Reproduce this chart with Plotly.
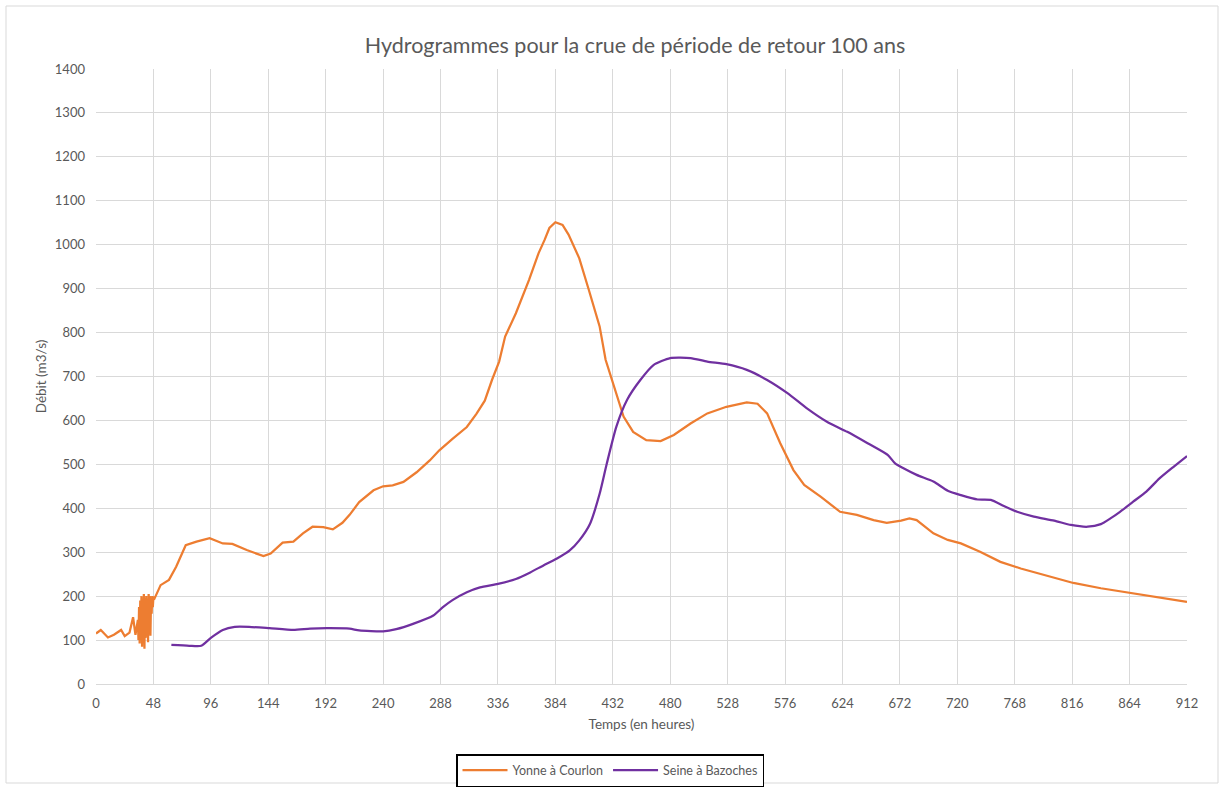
import plotly.graph_objects as go

# Yonne à Courlon (heures, m3/s)
yonne_t = [0, 4, 10, 15, 21, 24, 28, 31, 33, 35,
           35.5, 36, 36.5, 37, 37.5, 38, 38.5, 39, 39.5, 40, 40.5, 41, 41.5, 42,
           42.5, 43, 43.5, 44, 44.5, 45, 45.5, 46, 46.5, 47, 47.5, 48,
           49, 54, 61, 67, 75, 84, 95, 106, 114, 126, 140, 146, 156, 165, 173,
           181, 190, 198, 206, 212, 220, 232, 240, 248, 257, 268, 279, 287,
           298, 310, 318, 325, 331, 337, 342, 351, 362, 370, 375, 379, 384,
           390, 395, 404, 412, 421, 426, 433, 441, 449, 460, 472, 483, 497,
           511, 527, 544, 553, 561, 572, 583, 592, 606, 622, 636, 650, 661,
           673, 680, 686, 700, 712, 723, 739, 756, 773, 795, 817, 840, 862,
           884, 912]
yonne_q = [115, 123, 106, 112, 123, 109, 117, 152, 112, 146,
           100, 175, 92, 190, 110, 200, 85, 185, 120, 205, 80, 195, 105, 200,
           130, 190, 95, 205, 140, 200, 110, 195, 160, 200, 175, 198,
           195, 225, 237, 267, 316, 324, 332, 320, 319, 305, 291, 297, 322, 324, 343,
           358, 357, 352, 367, 385, 414, 441, 450, 452, 460, 482, 509, 532,
           558, 585, 615, 645, 692, 734, 791, 844, 920, 981, 1011, 1038, 1051,
           1045, 1023, 969, 897, 814, 738, 677, 609, 574, 555, 553, 567, 593,
           616, 631, 641, 638, 616, 548, 487, 453, 426, 392, 385, 373, 367,
           372, 377, 373, 343, 328, 320, 301, 278, 263, 246, 230, 218, 208,
           199, 187]

# Seine à Bazoches (heures, m3/s)
seine_t = [63, 78, 88, 96, 106, 116, 128, 145, 165, 179, 193, 212, 220,
           240, 251, 265, 282, 290, 298, 310, 321, 336, 351, 363, 374, 385,
           396, 404, 413, 421, 427, 435, 444, 455, 466, 480, 497, 511, 527,
           544, 561, 578, 594, 611, 628, 645, 662, 668, 675, 686, 700, 712,
           723, 737, 748, 759, 770, 784, 801, 815, 829, 840, 848, 856, 867,
           878, 889, 901, 912]
seine_q = [89, 87, 87, 105, 123, 130, 130, 127, 123, 126, 127, 126, 122,
           120, 125, 137, 156, 175, 191, 209, 220, 228, 239, 254, 270, 285,
           304, 327, 365, 433, 502, 586, 647, 692, 726, 742, 742, 734, 728,
           715, 692, 662, 628, 597, 574, 548, 521, 502, 491, 476, 461, 440,
           430, 420, 419, 405, 392, 381, 372, 362, 358, 364, 377, 392, 415,
           438, 468, 495, 519]

x_ticks = list(range(0, 913, 48))

GRAY_TEXT = "#595959"
GRID = "#d9d9d9"
FONT = "Lato, 'Open Sans', sans-serif"

fig = go.Figure()
fig.add_trace(go.Scatter(
    x=yonne_t, y=yonne_q, mode="lines", name="Yonne à Courlon",
    line=dict(color="#ED7D31", width=2.25),
))
fig.add_trace(go.Scatter(
    x=seine_t, y=seine_q, mode="lines", name="Seine à Bazoches",
    line=dict(color="#7030A0", width=2.25, shape="spline", smoothing=0.6),
))

fig.update_layout(
    width=1224, height=789,
    paper_bgcolor="white", plot_bgcolor="white",
    margin=dict(l=96, r=37, t=69, b=105, autoexpand=False),
    font=dict(family=FONT, color=GRAY_TEXT, size=13),
    title=dict(
        text="Hydrogrammes pour la crue de période de retour 100 ans",
        x=(635 - 96) / 1091, xref="paper", xanchor="center",
        y=1 - 45 / 789, yanchor="middle",
        font=dict(size=21.5, color=GRAY_TEXT, family=FONT),
    ),
    xaxis=dict(
        range=[0, 912], tickmode="array", tickvals=x_ticks,
        ticktext=[str(v) for v in x_ticks],
        showgrid=True, gridcolor=GRID, gridwidth=1,
        zeroline=False, showline=True, linecolor=GRID, linewidth=1,
        ticks="", ticklabelstandoff=7, tickfont=dict(size=13, color=GRAY_TEXT),
        title=dict(text="Temps (en heures)", standoff=9,
                   font=dict(size=13.5, color=GRAY_TEXT)),
    ),
    yaxis=dict(
        range=[0, 1400], dtick=100,
        showgrid=True, gridcolor=GRID, gridwidth=1,
        zeroline=False, showline=False,
        ticks="", ticklabelstandoff=10, tickfont=dict(size=13, color=GRAY_TEXT),
        title=dict(text="Débit (m3/s)", standoff=5,
                   font=dict(size=13.5, color=GRAY_TEXT)),
    ),
    legend=dict(
        orientation="h", x=(610 - 96) / 1091, xanchor="center",
        y=-70 / 615, yanchor="top",
        bordercolor="#000000", borderwidth=1.5,
        font=dict(size=12.5, color=GRAY_TEXT),
        itemwidth=45,
    ),
    shapes=[dict(
        type="rect", xref="paper", yref="paper",
        x0=(6 - 96) / 1091, x1=(1218 - 96) / 1091,
        y0=(684 - 783) / 615, y1=(684 - 6) / 615,
        line=dict(color="#d9d9d9", width=1), fillcolor="rgba(0,0,0,0)",
        layer="below",
    )],
)

fig.write_html("out.html")
